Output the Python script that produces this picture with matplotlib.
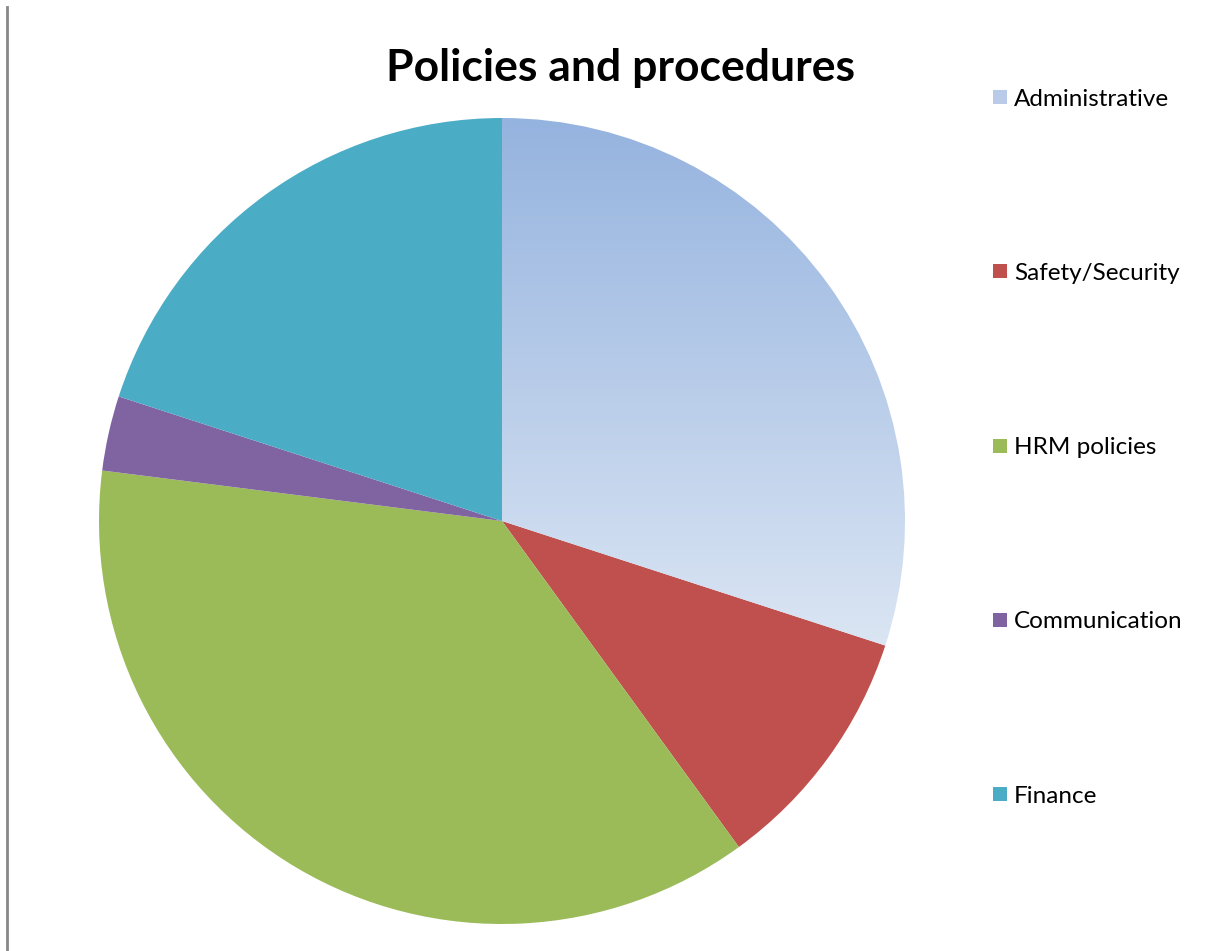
import numpy as np
import matplotlib
matplotlib.use("Agg")
import matplotlib.pyplot as plt
from matplotlib.colors import LinearSegmentedColormap
from matplotlib.patches import Rectangle
from matplotlib.lines import Line2D

plt.rcParams['font.family'] = ['Lato', 'DejaVu Sans']

labels = ['Administrative', 'Safety/Security', 'HRM policies', 'Communication', 'Finance']
values = [30, 10, 37, 3, 20]
colors = ['#b9cbe8', '#c0504d', '#9bbb59', '#8064a2', '#4bacc6']

fig = plt.figure(figsize=(12.21, 9.51), dpi=100)

# pie axes: centre ~ (502, 521) px, radius ~403 px
W, H = 1221, 951
ax = fig.add_axes([99 / W, 27 / H, 806 / W, 806 / H])
wedges, _ = ax.pie(values, colors=colors, startangle=90, counterclock=False,
                   radius=1.0, wedgeprops=dict(linewidth=0))
ax.set_xlim(-1, 1)
ax.set_ylim(-1, 1)
ax.set_aspect('equal')
ax.axis('off')

# gradient fill on the Administrative slice (darker at top, lighter at bottom)
grad_cmap = LinearSegmentedColormap.from_list('adm', ['#dde7f4', '#95b3df'])
grad = np.linspace(0, 1, 256).reshape(-1, 1)
wedges[0].set_facecolor('none')
im = ax.imshow(grad, cmap=grad_cmap, origin='lower', aspect='auto',
               extent=[0, 1, -0.35, 1], zorder=wedges[0].get_zorder())
im.set_clip_path(wedges[0])
ax.set_xlim(-1, 1)
ax.set_ylim(-1, 1)

fig.text(621 / W, 1 - 68 / H, 'Policies and procedures', ha='center', va='center',
         fontsize=32, fontweight='bold')

# legend on the right
for i, (lab, col) in enumerate(zip(labels, colors)):
    y = 1 - (99 + i * 174.3) / H
    fig.patches.append(Rectangle((993 / W, y - 5 / H), 14 / W, 14 / H,
                                 transform=fig.transFigure, facecolor=col,
                                 edgecolor='none'))
    fig.text(1014 / W, y, lab, ha='left', va='center', fontsize=17.5)

# thin vertical rule at the left edge
fig.lines.append(Line2D([7 / W, 7 / W], [0, 1 - 7 / H], transform=fig.transFigure,
                        color='#888888', linewidth=2))

fig.savefig('out.png', dpi=100, facecolor='white')
